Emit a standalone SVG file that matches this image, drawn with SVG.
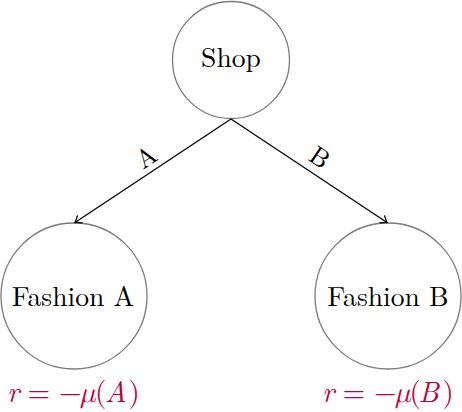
<svg xmlns="http://www.w3.org/2000/svg" width="462" height="412" viewBox="0 0 462 412">
<defs>
<style>
.node{fill:#fff;stroke:#7a7a7a;stroke-width:1.3}
.edge{stroke:#000;stroke-width:1.3;fill:none;marker-end:url(#to)}
</style>
<marker id="to" markerWidth="12" markerHeight="12" viewBox="-8 -6 10 12" refX="0" refY="0" orient="auto" markerUnits="userSpaceOnUse">
<path d="M-6,-4.5 Q-2,-1 0,0 Q-2,1 -6,4.5" stroke="#000" stroke-width="1.3" fill="none"/>
</marker>
</defs>
<g id="shop">
<circle class="node" cx="231" cy="60" r="58.5"/>
<text x="231" y="66.5" font-family="'Latin Modern Roman', serif" font-size="27.6" text-anchor="middle">Shop</text>
</g>
<g id="fashionA">
<circle class="node" cx="74" cy="296" r="73"/>
<text x="73" y="305.5" font-family="'Latin Modern Roman', serif" font-size="27.6" text-anchor="middle">Fashion A</text>
</g>
<g id="fashionB">
<circle class="node" cx="388" cy="296" r="73"/>
<text x="388" y="305.5" font-family="'Latin Modern Roman', serif" font-size="27.6" text-anchor="middle">Fashion B</text>
</g>
<g id="connectors">
<line class="edge" x1="231" y1="119" x2="75" y2="222.5"/>
<line class="edge" x1="231" y1="119" x2="387" y2="222.5"/>
<text transform="translate(146,157) rotate(-33.69)" y="9" font-family="'Latin Modern Roman', serif" font-size="26" text-anchor="middle">A</text>
<text transform="translate(320,157) rotate(33.69)" y="9" font-family="'Latin Modern Roman', serif" font-size="26" text-anchor="middle">B</text>
</g>
<g id="rewardA">
<text y="402" font-family="'Latin Modern Roman', serif" font-size="29" fill="#BF0040"><tspan font-style="italic" x="7">r</tspan><tspan x="27.4">=</tspan><tspan x="59">−</tspan><tspan font-family="'Latin Modern Math', serif" font-style="italic" x="80">μ</tspan><tspan x="95">(</tspan><tspan font-style="italic" x="105">A</tspan><tspan x="128.5">)</tspan></text>
</g>
<g id="rewardB">
<text y="402" font-family="'Latin Modern Roman', serif" font-size="29" fill="#BF0040"><tspan font-style="italic" x="322">r</tspan><tspan x="342.4">=</tspan><tspan x="374">−</tspan><tspan font-family="'Latin Modern Math', serif" font-style="italic" x="395">μ</tspan><tspan x="409.5">(</tspan><tspan font-style="italic" x="418.5">B</tspan><tspan x="442.5">)</tspan></text>
</g>
</svg>
